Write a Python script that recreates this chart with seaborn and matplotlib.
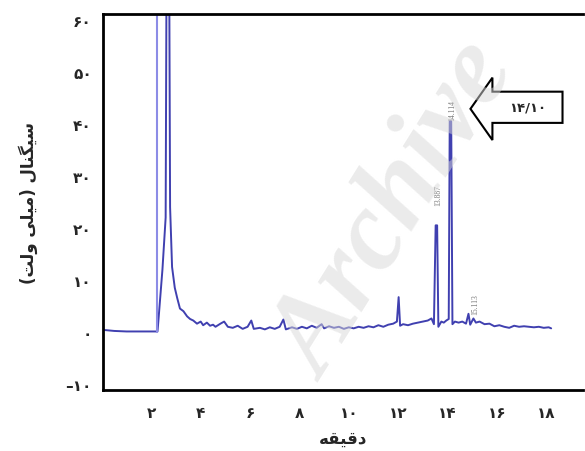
import numpy as np
import pandas as pd
import seaborn as sns
import matplotlib
matplotlib.use("Agg")
import matplotlib.pyplot as plt
from matplotlib.patches import Polygon

# ---- data (time in minutes, signal in mV) ----
time_min = [0.05, 0.5, 1.0, 1.5, 2.0, 2.25,
            2.30, 2.45, 2.58, 2.62, 2.72, 2.76, 2.84, 2.95, 3.05, 3.16, 3.30, 3.45,
            3.57, 3.70, 3.85, 4.00, 4.10, 4.25, 4.38, 4.50,
            4.6, 4.8, 4.95, 5.1, 5.3, 5.5, 5.7, 5.9, 6.05, 6.15, 6.4, 6.6, 6.8, 7.0,
            7.2, 7.35, 7.45, 7.7, 7.9, 8.1, 8.3, 8.5, 8.7, 8.9, 9.0, 9.2, 9.4, 9.6,
            9.8, 10.0, 10.2, 10.4, 10.6, 10.8, 11.0, 11.2, 11.4, 11.6, 11.8, 11.95,
            12.02, 12.08, 12.2, 12.4, 12.6, 12.8, 13.0, 13.2, 13.35, 13.45, 13.52,
            13.58, 13.63, 13.75, 13.85, 13.95, 14.05, 14.09, 14.15, 14.2, 14.3,
            14.45, 14.6, 14.75, 14.85, 14.92, 15.05, 15.15, 15.3, 15.5, 15.7, 15.9,
            16.1, 16.3, 16.5, 16.7, 16.9, 17.1, 17.3, 17.5, 17.7, 17.9, 18.1, 18.2]
signal_mv = [0.4, 0.2, 0.1, 0.1, 0.1, 0.1,
             3.0, 12.0, 22.0, 75.0, 75.0, 24.0, 12.5, 8.5, 6.5, 4.5, 4.0, 3.0,
             2.5, 2.2, 1.6, 2.0, 1.3, 1.8, 1.2, 1.4,
             1.0, 1.6, 2.0, 1.0, 0.8, 1.2, 0.6, 1.0, 2.2, 0.6, 0.8, 0.5, 0.9, 0.6,
             1.0, 2.4, 0.5, 0.9, 0.6, 1.0, 0.7, 1.2, 0.8, 1.5, 0.7, 1.1, 0.8, 1.0,
             0.6, 0.9, 0.7, 1.0, 0.8, 1.1, 0.9, 1.3, 1.0, 1.4, 1.6, 2.0,
             6.7, 1.2, 1.5, 1.3, 1.6, 1.8, 2.0, 2.2, 2.6, 1.5, 20.5,
             20.5, 1.0, 2.0, 1.8, 2.2, 2.5, 40.5, 40.5, 1.5, 2.0,
             1.8, 2.0, 1.6, 3.5, 1.4, 2.6, 1.8, 2.0, 1.5, 1.6, 1.1,
             1.3, 1.0, 0.8, 1.2, 1.0, 1.1, 1.0, 0.9, 1.0, 0.8, 0.9, 0.7]
overlay_time = [2.22, 2.22]
overlay_signal = [0.0, 75.0]

peak_times = [13.55, 14.12, 15.05]
peak_labels = ["13.887", "14.114", "15.113"]
peak_label_y = [24.5, 40.7, 3.5]

x_ticks = [2, 4, 6, 8, 10, 12, 14, 16, 18]
x_tick_labels = ["۲", "۴", "۶", "۸", "۱۰", "۱۲", "۱۴", "۱۶", "۱۸"]
y_ticks = [-10, 0, 10, 20, 30, 40, 50, 60]
y_tick_labels = ["–۱۰", "۰", "۱۰", "۲۰", "۳۰", "۴۰", "۵۰", "۶۰"]

# Persian labels in visual (pre-shaped) order
x_label = "\uFEEA\uFED8\uFEF4\uFED7\uFEA9"                      # دقیقه
y_label = ("(" + "\uFE96\uFEDF\uFEED" + " " + "\uFEF0\uFEE0\uFEF4\uFEE3" + ")"
           + " " + "\uFEDD\uFE8E\uFEE8\uFB95\uFEF4\uFEB3")        # سیگنال (میلی ولت)
arrow_text = "۱۴/۱۰"

sns.set_theme(style="white")
plt.rcParams['font.family'] = ['DejaVu Sans']

fig = plt.figure(figsize=(5.85, 4.52), dpi=100)
ax = fig.add_axes([0.176, 0.135, 0.821, 0.832])

df = pd.DataFrame({"t": time_min, "s": signal_mv})
sns.lineplot(data=df, x="t", y="s", ax=ax, sort=False, estimator=None,
             color="#4040b0", linewidth=1.4)
sns.lineplot(x=overlay_time, y=overlay_signal, ax=ax, sort=False, estimator=None,
             color="#8c8ce6", linewidth=1.5)

for t, lab, yy in zip(peak_times, peak_labels, peak_label_y):
    ax.text(t + 0.08, yy, lab, rotation=90, fontsize=5.5, color="#777777",
            ha="center", va="bottom", family="Liberation Serif")

ax.set_xlim(0.04, 19.5)
ax.set_ylim(-11.15, 61.15)
ax.set_xticks(x_ticks)
ax.set_xticklabels(x_tick_labels, fontsize=11, fontweight="bold")
ax.set_yticks(y_ticks)
ax.set_yticklabels(y_tick_labels, fontsize=11, fontweight="bold")
ax.tick_params(axis="both", length=0)
ax.tick_params(axis="x", pad=11)
ax.tick_params(axis="y", pad=8)
ax.set_xlabel(x_label, fontsize=12, fontweight="bold", labelpad=6)
ax.set_ylabel(y_label, fontsize=12, fontweight="bold", labelpad=20)

for side in ["left", "top", "bottom"]:
    ax.spines[side].set_color("black")
    ax.spines[side].set_linewidth(2)
ax.spines["right"].set_visible(False)

# arrow annotation pointing left
arrow_pts = [(14.93, 42.9), (15.82, 48.9), (15.82, 46.2), (18.66, 46.2),
             (18.66, 40.2), (15.82, 40.2), (15.82, 36.9)]
ax.add_patch(Polygon(arrow_pts, closed=True, facecolor="white",
                     edgecolor="black", linewidth=1.5, zorder=5))
ax.text(17.25, 43.2, arrow_text, fontsize=9.5, fontweight="bold",
        ha="center", va="center", zorder=6)

# watermark
fig.text(0.68, 0.53, "Archive", rotation=58, fontsize=82, color="#d8d8d8",
         alpha=0.5, family="Liberation Serif", fontweight="bold",
         fontstyle="italic", ha="center", va="center")

fig.savefig("out.png", dpi=100)
